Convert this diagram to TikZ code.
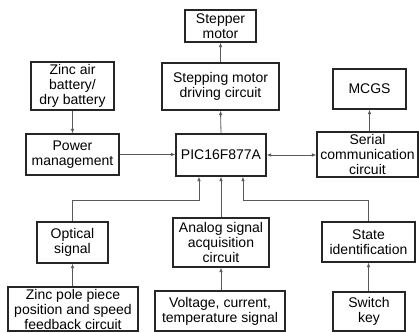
\documentclass[tikz,border=0pt]{standalone}
\usepackage{fontspec}
\setmainfont{Liberation Sans}
\usetikzlibrary{arrows.meta}
\begin{document}
\begin{tikzpicture}[x=1pt,y=-1pt,
  box/.style={draw=black!85,line width=1.1pt,inner sep=0pt,align=center,
    font=\fontsize{14}{15}\selectfont},
  conn/.style={draw=black!65,line width=0.8pt,-{Latex[length=4.5pt,width=3.5pt]}},
  biconn/.style={draw=black!65,line width=0.8pt,{Latex[length=4.5pt,width=3.5pt]}-{Latex[length=4.5pt,width=3.5pt]}}]
\useasboundingbox (0,0) rectangle (419,332);
\node[box,minimum width=71,minimum height=32] (motor) at (220.5,26) {Stepper\\motor};
\node[box,minimum width=117,minimum height=47] (drv) at (220.5,86.5) {Stepping motor\\driving circuit};
\node[box,minimum width=83,minimum height=48] (bat) at (72.5,86) {Zinc air\\battery/\\dry battery};
\node[box,minimum width=93,minimum height=41] (pwr) at (72.5,154.5) {Power\\management};
\node[box,minimum width=90,minimum height=42] (pic) at (221,155) {PIC16F877A};
\node[box,minimum width=73,minimum height=40] (mcgs) at (369.5,89) {MCGS};
\node[box,minimum width=101,minimum height=45] (ser) at (367.5,154.5) {Serial\\communication\\circuit};
\node[box,minimum width=71,minimum height=41] (opt) at (72.5,242.5) {Optical\\signal};
\node[box,minimum width=96,minimum height=49] (ana) at (221,242.5) {Analog signal\\acquisition\\circuit};
\node[box,minimum width=93,minimum height=40] (sta) at (368.5,242) {State\\identification};
\node[box,minimum width=130,minimum height=44] (zinc) at (73,309) {Zinc pole piece\\position and speed\\feedback circuit};
\node[box,minimum width=130,minimum height=40] (volt) at (220,311) {Voltage, current,\\temperature signal};
\node[box,minimum width=72,minimum height=39] (sw) at (369,311.5) {Switch\\key};
\coordinate (optturn) at (72.5,200);
\coordinate (picL) at (199,200);
\coordinate (staturn) at (368.5,200);
\coordinate (picR) at (243,200);
\draw[conn] (bat.south) -- (pwr.north);
\draw[conn] (pwr.east) -- (pwr.east -| pic.west);
\draw[biconn] (pic.east) -- (pic.east -| ser.west);
\draw[conn] (pic.north) -- (drv.south);
\draw[conn] (drv.north) -- (motor.south);
\draw[conn] (ser.north -| mcgs.south) -- (mcgs.south);
\draw[conn] (opt.north) -- (optturn) -- (picL) -- (picL |- pic.south);
\draw[conn] (ana.north) -- (ana.north |- pic.south);
\draw[conn] (sta.north) -- (staturn) -- (picR) -- (picR |- pic.south);
\draw[conn] (zinc.north -| opt.south) -- (opt.south);
\draw[conn] (volt.north -| ana.south) -- (ana.south);
\draw[conn] (sw.north -| sta.south) -- (sta.south);
\end{tikzpicture}
\end{document}
